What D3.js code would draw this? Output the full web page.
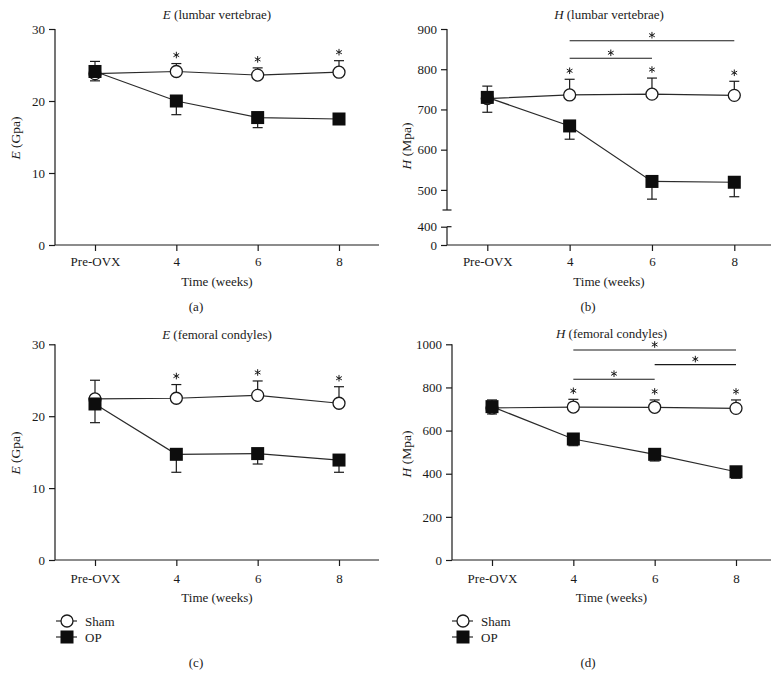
<!DOCTYPE html>
<html>
<head>
<meta charset="utf-8">
<script src="https://cdn.jsdelivr.net/npm/d3@7"></script>
<style>
  html, body { margin: 0; padding: 0; background: #fff; }
  svg { display: block; }
  text { font-family: "Liberation Serif", "Times New Roman", serif; fill: #1a1a1a; }
</style>
</head>
<body>
<svg id="chart" width="784" height="677"></svg>
<script>
// ---------- DATA ----------
const timeLabels = ["Pre-OVX", "4", "6", "8"];

// (a) E lumbar vertebrae (GPa)
const shamE_LV = [23.8, 24.1, 23.6, 24.0];
const shamE_LV_err = [1.7, 1.1, 1.0, 1.6];
const opE_LV = [24.1, 20.0, 17.7, 17.5];
const opE_LV_err = [1.3, 1.9, 1.4, 0.5];

// (b) H lumbar vertebrae (MPa)
const shamH_LV = [727, 736, 738, 735];
const shamH_LV_err = [31, 39, 40, 35];
const opH_LV = [730, 659, 521, 519];
const opH_LV_err = [37, 33, 44, 36];

// (c) E femoral condyles (GPa)
const shamE_FC = [22.4, 22.5, 22.9, 21.8];
const shamE_FC_err = [2.6, 1.9, 2.0, 2.3];
const opE_FC = [21.7, 14.7, 14.8, 13.9];
const opE_FC_err = [2.6, 2.5, 1.45, 1.7];

// (d) H femoral condyles (MPa)
const shamH_FC = [705, 709, 708, 703];
const shamH_FC_err = [37, 36, 34, 39];
const opH_FC = [711, 561, 490, 409];
const opH_FC_err = [34, 31, 31, 30];

// tick labels
const ticksE = [0, 10, 20, 30];
const ticksH_LV_upper = [500, 600, 700, 800, 900];
const ticksH_LV_lower = [0, 400];
const ticksH_FC = [0, 200, 400, 600, 800, 1000];

// significance: points marked with * above Sham, and brackets [from, to]
const starPoints = ["4", "6", "8"];
const bracketsH_LV = [["4", "8"], ["4", "6"]];
const bracketsH_FC = [["4", "8"], ["6", "8"], ["4", "6"]];

const legendNames = ["Sham", "OP"];

// ---------- LAYOUT ----------
const svg = d3.select("#chart");
const INK = "#1a1a1a";
const LINE = "#2a2a2a";

const panels = [
  { title: "E", titleRest: " (lumbar vertebrae)", ylab: "E", ylabRest: " (Gpa)", tag: "(a)",
    ax: 55, xr: [95, 339], xEnd: 379, top: 29, bottom: 245, colC: 196,
    yDomain: [0, 30], yRange: [245, 29], ticks: ticksE,
    sham: shamE_LV, shamErr: shamE_LV_err, op: opE_LV, opErr: opE_LV_err,
    titleY: 19, ylabY: 138, ylabX: 15, tickLabY: 266, xTitleY: 286, tagY: 311,
    brackets: [], legend: false },
  { title: "H", titleRest: " (lumbar vertebrae)", ylab: "H", ylabRest: " (Mpa)", tag: "(b)",
    ax: 447, xr: [487.3, 734.3], xEnd: 771, top: 29, bottom: 245, colC: 588,
    yDomain: [0, 400, 450, 900], yRange: [245, 226.7, 210, 29], ticks: ticksH_LV_upper.concat(ticksH_LV_lower),
    broken: true,
    sham: shamH_LV, shamErr: shamH_LV_err, op: opH_LV, opErr: opH_LV_err,
    titleY: 19, ylabY: 146, ylabX: 406, tickLabY: 266, xTitleY: 286, tagY: 311,
    brackets: bracketsH_LV, bracketY0: 40.7, bracketDy: 17.6, legend: false },
  { title: "E", titleRest: " (femoral condyles)", ylab: "E", ylabRest: " (Gpa)", tag: "(c)",
    ax: 55, xr: [95, 339], xEnd: 379, top: 344.3, bottom: 560, colC: 196,
    yDomain: [0, 30], yRange: [560, 344.3], ticks: ticksE,
    sham: shamE_FC, shamErr: shamE_FC_err, op: opE_FC, opErr: opE_FC_err,
    titleY: 339, ylabY: 453, ylabX: 15, tickLabY: 583, xTitleY: 602, tagY: 667,
    brackets: [], legend: true, legX: 56, legY: 621 },
  { title: "H", titleRest: " (femoral condyles)", ylab: "H", ylabRest: " (Mpa)", tag: "(d)",
    ax: 452, xr: [492, 736], xEnd: 771, top: 344.3, bottom: 560, colC: 588,
    yDomain: [0, 1000], yRange: [560, 344.3], ticks: ticksH_FC,
    sham: shamH_FC, shamErr: shamH_FC_err, op: opH_FC, opErr: opH_FC_err,
    titleY: 338, ylabY: 454, ylabX: 406, tickLabY: 583, xTitleY: 602, tagY: 667,
    brackets: bracketsH_FC, bracketY0: 350, bracketDy: 14.6, legend: true, legX: 452, legY: 621 }
];

const FS = 13;
const starPath = d3.symbol().type(d3.symbolAsterisk).size(30)();

function drawCircle(g, x, y) {
  g.append("circle").attr("cx", x).attr("cy", y).attr("r", 6)
    .attr("fill", "#fff").attr("stroke", INK).attr("stroke-width", 1.3);
}
function drawSquare(g, x, y) {
  g.append("rect").attr("x", x - 6.5).attr("y", y - 6.5).attr("width", 13).attr("height", 13)
    .attr("fill", "#0d0d0d");
}
function drawStar(g, x, y) {
  g.append("path").attr("d", starPath).attr("transform", `translate(${x},${y})`)
    .attr("fill", "none").attr("stroke", INK).attr("stroke-width", 1.0);
}

panels.forEach(p => {
  const g = svg.append("g");
  const x = d3.scalePoint().domain(timeLabels).range(p.xr);
  const y = d3.scaleLinear().domain(p.yDomain).range(p.yRange);

  // title
  const t = g.append("text").attr("x", (p.ax + p.xEnd) / 2).attr("y", p.titleY)
    .attr("text-anchor", "middle").attr("font-size", FS);
  t.append("tspan").attr("font-style", "italic").text(p.title);
  t.append("tspan").text(p.titleRest);

  // y label
  const yl = g.append("text").attr("transform", `translate(${p.ylabX},${p.ylabY}) rotate(-90)`)
    .attr("text-anchor", "middle").attr("dominant-baseline", "central").attr("font-size", 13.5);
  yl.append("tspan").attr("font-style", "italic").text(p.ylab);
  yl.append("tspan").text(p.ylabRest);

  // y axis
  const yAxis = d3.axisLeft(y).tickValues(p.ticks).tickSize(6).tickPadding(4).tickFormat(d3.format("d"));
  const ya = g.append("g").attr("transform", `translate(${p.ax},0)`).call(yAxis);
  ya.select(".domain").remove();
  ya.selectAll(".tick line").attr("stroke", INK).attr("stroke-width", 1.2);
  ya.selectAll(".tick text").attr("font-size", FS).attr("font-family", "Liberation Serif, serif").attr("fill", INK);
  if (p.broken) {
    const yd = p.yDomain;
    g.append("line").attr("x1", p.ax).attr("x2", p.ax).attr("y1", y(yd[3])).attr("y2", y(yd[2]))
      .attr("stroke", INK).attr("stroke-width", 1.2);
    g.append("line").attr("x1", p.ax - 4.5).attr("x2", p.ax + 4.5).attr("y1", y(yd[2])).attr("y2", y(yd[2]))
      .attr("stroke", INK).attr("stroke-width", 1.2);
    g.append("line").attr("x1", p.ax).attr("x2", p.ax).attr("y1", y(yd[1])).attr("y2", y(yd[0]))
      .attr("stroke", INK).attr("stroke-width", 1.2);
    g.append("line").attr("x1", p.ax).attr("x2", p.ax + 4.5).attr("y1", y(yd[1])).attr("y2", y(yd[1]))
      .attr("stroke", INK).attr("stroke-width", 1.2);
  } else {
    g.append("line").attr("x1", p.ax).attr("x2", p.ax)
      .attr("y1", y(p.yDomain[p.yDomain.length - 1])).attr("y2", y(p.yDomain[0]))
      .attr("stroke", INK).attr("stroke-width", 1.2);
  }

  // x axis
  const xAxis = d3.axisBottom(x).tickSize(6).tickPadding(6);
  const xa = g.append("g").attr("transform", `translate(0,${p.bottom})`).call(xAxis);
  xa.select(".domain").remove();
  xa.selectAll(".tick line").attr("stroke", INK).attr("stroke-width", 1.2);
  xa.selectAll(".tick text").attr("font-size", FS).attr("font-family", "Liberation Serif, serif")
    .attr("fill", INK).attr("dy", null).attr("y", p.tickLabY - p.bottom);
  g.append("line").attr("x1", p.ax).attr("x2", p.xEnd).attr("y1", p.bottom).attr("y2", p.bottom)
    .attr("stroke", INK).attr("stroke-width", 1.2);

  g.append("text").attr("x", (p.ax + p.xEnd) / 2).attr("y", p.xTitleY).attr("text-anchor", "middle")
    .attr("font-size", FS).text("Time (weeks)");
  g.append("text").attr("x", p.colC).attr("y", p.tagY).attr("text-anchor", "middle")
    .attr("font-size", FS).text(p.tag);

  const line = d3.line().x((d, i) => x(timeLabels[i])).y(d => y(d));
  g.append("path").attr("d", line(p.sham)).attr("fill", "none").attr("stroke", LINE).attr("stroke-width", 1.2);
  g.append("path").attr("d", line(p.op)).attr("fill", "none").attr("stroke", LINE).attr("stroke-width", 1.2);

  function errBar(xv, y0, y1) {
    g.append("line").attr("x1", xv).attr("x2", xv).attr("y1", y0).attr("y2", y1)
      .attr("stroke", INK).attr("stroke-width", 1.2);
    g.append("line").attr("x1", xv - 5).attr("x2", xv + 5).attr("y1", y1).attr("y2", y1)
      .attr("stroke", INK).attr("stroke-width", 1.2);
  }
  timeLabels.forEach((lab, i) => {
    errBar(x(lab), y(p.sham[i]), y(p.sham[i] + p.shamErr[i]));
    errBar(x(lab), y(p.op[i]), y(p.op[i] - p.opErr[i]));
  });

  timeLabels.forEach((lab, i) => drawCircle(g, x(lab), y(p.sham[i])));
  timeLabels.forEach((lab, i) => drawSquare(g, x(lab), y(p.op[i])));

  timeLabels.forEach((lab, i) => {
    if (starPoints.includes(lab)) drawStar(g, x(lab), y(p.sham[i] + p.shamErr[i]) - 8.5);
  });

  p.brackets.forEach((b, k) => {
    const by = p.bracketY0 + k * p.bracketDy;
    const bx1 = x(b[0]), bx2 = x(b[1]);
    g.append("line").attr("x1", bx1).attr("x2", bx2).attr("y1", by).attr("y2", by)
      .attr("stroke", INK).attr("stroke-width", 1.1);
    drawStar(g, (bx1 + bx2) / 2, by - 5.5);
  });

  if (p.legend) {
    legendNames.forEach((name, k) => {
      const ly = p.legY + k * 16;
      g.append("line").attr("x1", p.legX).attr("x2", p.legX + 21).attr("y1", ly).attr("y2", ly)
        .attr("stroke", LINE).attr("stroke-width", 1.2);
      if (k === 0) drawCircle(g, p.legX + 11, ly); else drawSquare(g, p.legX + 11, ly);
      g.append("text").attr("x", p.legX + 29).attr("y", ly + 4.5).attr("font-size", FS).text(name);
    });
  }
});
</script>
</body>
</html>
